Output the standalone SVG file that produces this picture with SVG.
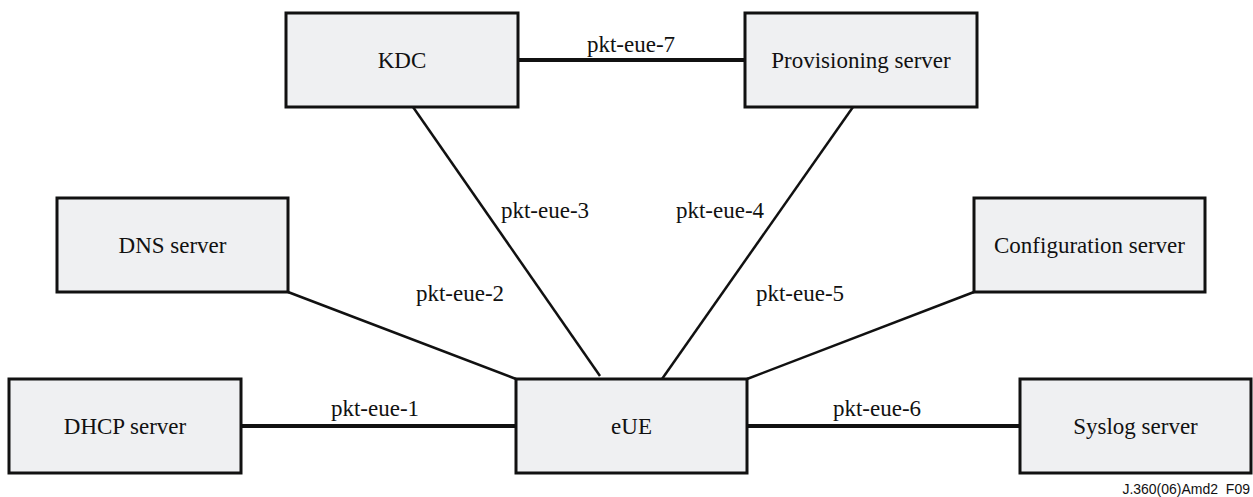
<svg xmlns="http://www.w3.org/2000/svg" width="1253" height="497" viewBox="0 0 1253 497">
<style>
.box{fill:#eff0f2;stroke:#111;stroke-width:3}
.t{font-size:23px;fill:#111;text-anchor:middle}
.thick{stroke:#111;stroke-width:4;fill:none}
.thin{stroke:#111;stroke-width:2.5;fill:none}
.foot{font-size:14px;fill:#111;text-anchor:end}
</style>
<rect width="1253" height="497" fill="#fff"/>
<g id="connectors" font-family="'Liberation Serif', 'DejaVu Serif', serif">
<line class="thick" x1="518" y1="60" x2="745" y2="60"/>
<line class="thick" x1="241" y1="426" x2="516" y2="426"/>
<line class="thick" x1="747" y1="426" x2="1020" y2="426"/>
<line class="thin" x1="413" y1="107" x2="600" y2="376"/>
<line class="thin" x1="853" y1="107" x2="662" y2="379"/>
<line class="thin" x1="288" y1="292" x2="516" y2="379"/>
<line class="thin" x1="747" y1="379" x2="974" y2="292"/>
<text class="t" x="631" y="52">pkt-eue-7</text>
<text class="t" x="545" y="218">pkt-eue-3</text>
<text class="t" x="720" y="218">pkt-eue-4</text>
<text class="t" x="460" y="301">pkt-eue-2</text>
<text class="t" x="800" y="301">pkt-eue-5</text>
<text class="t" x="375" y="416">pkt-eue-1</text>
<text class="t" x="877" y="416">pkt-eue-6</text>
</g>
<g font-family="'Liberation Serif', 'DejaVu Serif', serif">
<g id="kdc"><rect class="box" x="286" y="13" width="232" height="94"/><text class="t" x="402" y="68">KDC</text></g>
<g id="prov"><rect class="box" x="745" y="13" width="232" height="94"/><text class="t" x="861" y="68">Provisioning server</text></g>
<g id="dns"><rect class="box" x="57" y="198" width="231" height="94"/><text class="t" x="172.5" y="253">DNS server</text></g>
<g id="config"><rect class="box" x="974" y="198" width="231" height="94"/><text class="t" x="1089.5" y="253">Configuration server</text></g>
<g id="dhcp"><rect class="box" x="9" y="379" width="232" height="94"/><text class="t" x="125" y="434">DHCP server</text></g>
<g id="eue"><rect class="box" x="516" y="379" width="231" height="94"/><text class="t" x="631.5" y="434">eUE</text></g>
<g id="syslog"><rect class="box" x="1020" y="379" width="231" height="94"/><text class="t" x="1135.5" y="434">Syslog server</text></g>
</g>
<text class="foot" font-family="'Liberation Sans', Arial, sans-serif" x="1250" y="494" xml:space="preserve">J.360(06)Amd2  F09</text>
</svg>
